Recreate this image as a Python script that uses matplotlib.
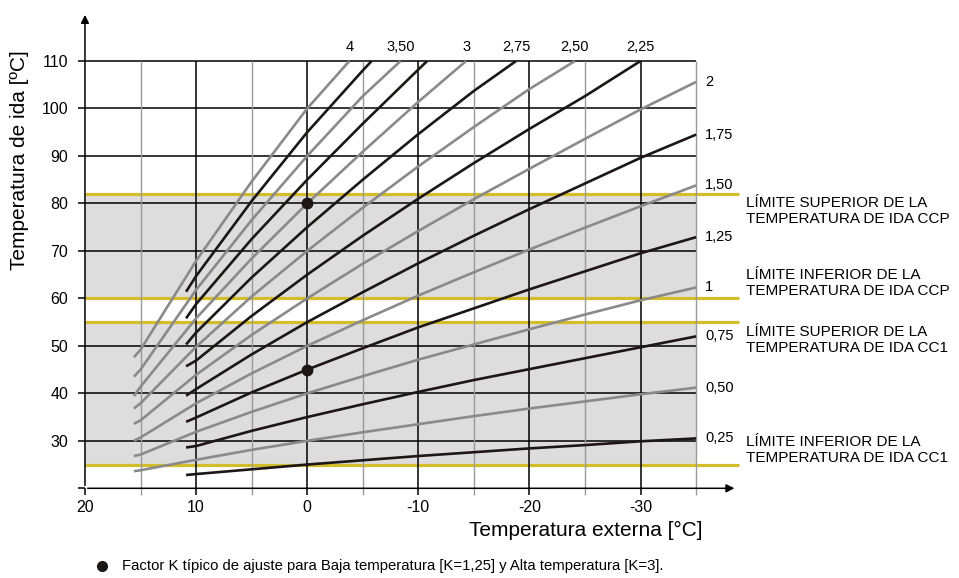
import matplotlib.pyplot as plt

plt.rcParams['font.family'] = ['Liberation Sans', 'DejaVu Sans']

# outside temperature points (gray curves start at ~15.6, black ones at ~10.9)
temps_gray = [15.6, 15, 10, 5, 0, -5, -10, -15, -20, -25, -30, -35]
temps_black = [10.9, 10, 5, 0, -5, -10, -15, -20, -25, -30, -35]

# flow temperature of each K curve
k_labels = ['0,25', '0,50', '0,75', '1', '1,25', '1,50', '1,75', '2',
            '2,25', '2,50', '2,75', '3', '3,25', '3,50', '3,75', '4']
flow_025 = [22.8, 23.0, 24.0, 25.0, 25.9, 26.8, 27.6, 28.4, 29.1, 29.9, 30.5]
flow_050 = [23.6, 23.8, 26.0, 28.1, 30.0, 31.8, 33.5, 35.2, 36.8, 38.3, 39.8, 41.2]
flow_075 = [28.6, 28.9, 32.1, 35.0, 37.7, 40.3, 42.8, 45.1, 47.4, 49.7, 52.0]
flow_100 = [26.8, 27.1, 31.9, 36.1, 40.0, 43.6, 47.1, 50.3, 53.5, 56.6, 59.6, 62.3]
flow_125 = [34.0, 34.9, 40.2, 45.0, 49.5, 53.9, 57.9, 61.9, 65.7, 69.5, 72.9]
flow_150 = [30.0, 30.7, 37.9, 44.2, 50.0, 55.4, 60.6, 65.5, 70.3, 74.9, 79.4, 83.8]
flow_175 = [39.5, 40.9, 48.2, 55.0, 61.3, 67.4, 73.2, 78.8, 84.2, 89.6, 94.5]
flow_200 = [33.6, 34.3, 43.9, 52.3, 60.0, 67.3, 74.2, 80.9, 87.3, 93.6, 99.8, 105.6]
flow_225 = [45.7, 46.9, 56.3, 65.0, 73.2, 81.0, 88.5, 95.7, 102.6]
flow_250 = [36.8, 37.9, 49.8, 60.4, 70.0, 79.1, 87.8, 96.1, 104.1]
flow_275 = [50.3, 52.8, 64.4, 75.0, 85.0, 94.6, 103.7]
flow_300 = [39.4, 41.4, 55.8, 68.4, 80.0, 90.9, 101.4]
flow_325 = [55.8, 58.8, 72.5, 85.0, 96.8, 108.2]
flow_350 = [43.5, 45.0, 61.8, 76.5, 90.0, 102.6]
flow_375 = [61.4, 64.7, 80.5, 95.0, 108.0]
flow_400 = [47.6, 49.2, 67.9, 84.6, 100.0]
flows = [flow_025, flow_050, flow_075, flow_100, flow_125, flow_150, flow_175, flow_200,
         flow_225, flow_250, flow_275, flow_300, flow_325, flow_350, flow_375, flow_400]
# outside temperature where the steep curves reach 110 °C
top_cross = [None, None, None, None, None, None, None, None,
             -30.0, -24.1, -18.8, -14.3, -10.8, -8.4, -5.8, -3.8]
top_labelled = ['2,25', '2,50', '2,75', '3', '3,50', '4']

limits = [82, 60, 55, 25]
limit_texts = ['LÍMITE SUPERIOR DE LA\nTEMPERATURA DE IDA CCP',
               'LÍMITE INFERIOR DE LA\nTEMPERATURA DE IDA CCP',
               'LÍMITE SUPERIOR DE LA\nTEMPERATURA DE IDA CC1',
               'LÍMITE INFERIOR DE LA\nTEMPERATURA DE IDA CC1']
limit_text_y = [78.4, 63.2, 51.3, 28.1]
shaded_bands = [(25, 55), (60, 82)]

typical_points_x = [0, 0]
typical_points_y = [45, 80]

x_major = [20, 10, 0, -10, -20, -30]
x_minor = [15, 5, -5, -15, -25, -35]
y_ticks = [20, 30, 40, 50, 60, 70, 80, 90, 100, 110]

YELLOW = '#d4bd2a'
GRAY = '#8a8a8a'
BLACK = '#1c1616'

fig = plt.figure(figsize=(9.59, 5.78), dpi=100)
ax = fig.add_axes([0.0886, 0.1552, 0.6836, 0.8296])
ax.set_xlim(20, -39)
ax.set_ylim(20, 121)
for s in ax.spines.values():
    s.set_visible(False)

# shaded ranges
for lo, hi in shaded_bands:
    ax.fill_between([20, -35], lo, hi, color='#dddddd', lw=0, zorder=0)

# horizontal grid
ax.hlines(y_ticks[1:], 20, -35, color='black', lw=1.1, zorder=1)

# limit lines
ax.hlines(limits, 20, -38.9, color=YELLOW, lw=2.3, zorder=2)

# vertical grid
ax.vlines(x_major[1:], 20, 110, color='black', lw=1.1, zorder=3)
ax.vlines(x_minor, 20, 110, color='#9a9a9a', lw=1.0, zorder=3)

# axes with arrows
ax.annotate('', xy=(20, 120.3), xytext=(20, 20),
            arrowprops=dict(arrowstyle='-|>', color='black', lw=1.1, mutation_scale=12),
            annotation_clip=False, zorder=5)
ax.annotate('', xy=(-38.7, 20), xytext=(20, 20),
            arrowprops=dict(arrowstyle='-|>', color='black', lw=1.1, mutation_scale=12),
            annotation_clip=False, zorder=5)

# K curves
for i, (lab, vals) in enumerate(zip(k_labels, flows)):
    base = temps_black if i % 2 == 0 else temps_gray
    col = BLACK if i % 2 == 0 else GRAY
    xs = list(base[:len(vals)])
    ys = list(vals)
    if top_cross[i] is not None:
        xs.append(top_cross[i])
        ys.append(110)
        if lab in top_labelled:
            ax.text(top_cross[i], 112.9, lab, ha='center', va='center', fontsize=10.5)
    else:
        ax.text(-35.8, ys[-1], lab, ha='left', va='center', fontsize=10.5)
    ax.plot(xs, ys, color=col, lw=1.9, solid_capstyle='butt', zorder=4)

ax.plot(typical_points_x, typical_points_y, 'o', color=BLACK, ms=7.5, zorder=6)

for txt, ty in zip(limit_texts, limit_text_y):
    ax.text(-39.5, ty, txt, ha='left', va='center', fontsize=11, linespacing=1.15)

# ticks
ax.set_xticks(x_major)
ax.set_xticklabels([str(v) for v in x_major])
ax.set_xticks(x_minor, minor=True)
ax.set_yticks(y_ticks)
ax.set_yticklabels([''] + [str(v) for v in y_ticks[1:]])
ax.tick_params(axis='both', which='major', direction='out', length=5, width=1.1,
               color='black', labelsize=11.5)
ax.tick_params(axis='x', which='major', pad=3.5)
ax.tick_params(axis='y', which='major', pad=7)
ax.tick_params(axis='x', which='minor', direction='out', length=5, width=1.0,
               color='#9a9a9a')

fig.text(20 / 959, 1 - 160 / 578, 'Temperatura de ida [ºC]', rotation=90,
         ha='center', va='center', fontsize=15)
fig.text(585.5 / 959, 1 - 530 / 578, 'Temperatura externa [°C]',
         ha='center', va='center', fontsize=15)

ax.plot([18.5], [3.6], 'o', color=BLACK, ms=7, clip_on=False)
fig.text(122 / 959, 1 - 566 / 578,
         'Factor K típico de ajuste para Baja temperatura [K=1,25] y Alta temperatura [K=3].',
         ha='left', va='center', fontsize=10.7)

fig.savefig('out.png', dpi=100)
